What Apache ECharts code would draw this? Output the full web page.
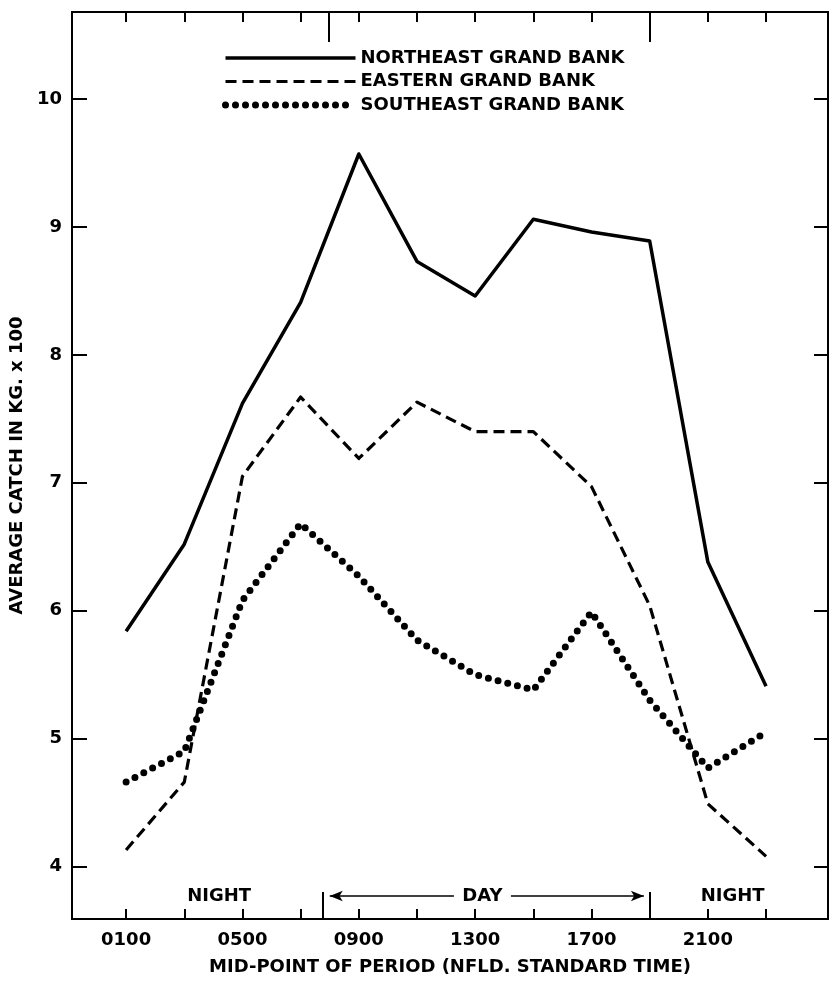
<!DOCTYPE html>
<html><head><meta charset="utf-8">
<script src="https://cdn.jsdelivr.net/npm/echarts@6/dist/echarts.min.js"></script>
<style>html,body{margin:0;padding:0;background:#fff}#c{width:833px;height:981px}</style>
</head><body><div id="c"></div>
<script>
const periods = ['0100','0300','0500','0700','0900','1100','1300','1500','1700','1900','2100','2300'];
const northeast = [5.84, 6.52, 7.62, 8.41, 9.57, 8.73, 8.46, 9.06, 8.96, 8.89, 6.38, 5.41];
const eastern   = [4.13, 4.66, 7.05, 7.67, 7.19, 7.63, 7.40, 7.40, 6.97, 6.04, 4.49, 4.08];
const southeast = [4.66, 4.90, 6.08, 6.68, 6.27, 5.77, 5.50, 5.38, 5.99, 5.30, 4.77, 5.05];
const xTickLabels = ['0100','0500','0900','1300','1700','2100'];
const yTickValues = [4, 5, 6, 7, 8, 9, 10];
const seriesNames = ['NORTHEAST GRAND BANK', 'EASTERN GRAND BANK', 'SOUTHEAST GRAND BANK'];
const periodTexts = ['NIGHT', 'DAY', 'NIGHT'];
const xTitle = 'MID-POINT OF PERIOD (NFLD. STANDARD TIME)';
const yTitle = 'AVERAGE CATCH IN KG. x 100';

const toHour = s => parseInt(s, 10) / 100;
const FONT = 'DejaVu Sans';
const txt = (size) => ({ fontFamily: FONT, fontWeight: 'bold', fontSize: size, color: '#000' });
const X_MIN = -0.86, X_MAX = 25.13, Y_MIN = 3.59, Y_MAX = 10.68;
const tickStyle = { color: '#000', width: 2 };
const noLine = { show: false, onZero: false };

const styles = [
  { width: 3.5, type: 'solid' },
  { width: 3.2, type: [11, 6] },
  { width: 7, type: [0, 10], cap: 'round' }
];

function mkSeries(name, vals, lineStyle, extra) {
  return Object.assign({
    name, type: 'line', symbol: 'none', silent: true, animation: false, z: 3,
    data: periods.map((p, i) => [toHour(p), vals[i]]),
    lineStyle: Object.assign({ color: '#000', join: 'round' }, lineStyle)
  }, extra || {});
}

const ANN_Y = 3.77;
const option = {
  backgroundColor: '#fff',
  animation: false,
  grid: { left: 72, right: 5, top: 12, bottom: 61, show: true, borderColor: '#000', borderWidth: 2, backgroundColor: 'transparent' },
  legend: {
    data: seriesNames.map((n, i) => ({ name: n, lineStyle: Object.assign({ color: '#000' }, styles[i]) })),
    orient: 'vertical', left: 222, top: 49, padding: 0,
    itemWidth: 130, itemHeight: 14, itemGap: 5.5, selectedMode: false,
    textStyle: txt(18), itemStyle: { opacity: 0 }
  },
  xAxis: [
    { type: 'value', min: X_MIN, max: X_MAX, position: 'bottom',
      axisLine: noLine, splitLine: { show: false },
      axisTick: { show: true, inside: true, length: 10, customValues: periods.map(toHour), lineStyle: tickStyle },
      axisLabel: { customValues: xTickLabels.map(toHour), margin: 12, ...txt(18),
        formatter: v => xTickLabels.find(l => Math.abs(toHour(l) - v) < 1e-6) || '' },
      name: xTitle, nameLocation: 'middle', nameGap: 39, nameTextStyle: txt(18) },
    { type: 'value', min: X_MIN, max: X_MAX, position: 'bottom',
      axisLine: noLine, splitLine: { show: false }, axisLabel: { show: false },
      axisTick: { show: true, inside: true, length: 27, customValues: [7.75, 19], lineStyle: tickStyle } },
    { type: 'value', min: X_MIN, max: X_MAX, position: 'top',
      axisLine: noLine, splitLine: { show: false }, axisLabel: { show: false },
      axisTick: { show: true, inside: true, length: 10, customValues: periods.map(toHour), lineStyle: tickStyle } },
    { type: 'value', min: X_MIN, max: X_MAX, position: 'top',
      axisLine: noLine, splitLine: { show: false }, axisLabel: { show: false },
      axisTick: { show: true, inside: true, length: 30, customValues: [7.95, 19], lineStyle: tickStyle } }
  ],
  yAxis: [
    { type: 'value', min: Y_MIN, max: Y_MAX, position: 'left',
      axisLine: noLine, splitLine: { show: false },
      axisTick: { show: true, inside: true, length: 15, customValues: yTickValues, lineStyle: tickStyle },
      axisLabel: { customValues: yTickValues, margin: 10, ...txt(18) },
      name: yTitle, nameLocation: 'middle', nameGap: 39, nameTextStyle: txt(18) },
    { type: 'value', min: Y_MIN, max: Y_MAX, position: 'right',
      axisLine: noLine, splitLine: { show: false }, axisLabel: { show: false },
      axisTick: { show: true, inside: true, length: 14, customValues: yTickValues, lineStyle: tickStyle } }
  ],
  series: [
    mkSeries(seriesNames[0], northeast, styles[0], {
      markLine: {
        silent: true, animation: false, symbol: ['none', 'arrow'], symbolSize: [8, 13],
        label: { show: false },
        lineStyle: { type: 'solid', width: 1.5, color: '#000' },
        data: [
          [{ coord: [12.27, ANN_Y] }, { coord: [8.0, ANN_Y] }],
          [{ coord: [14.23, ANN_Y] }, { coord: [18.8, ANN_Y] }]
        ]
      }
    }),
    mkSeries(seriesNames[1], eastern, styles[1]),
    mkSeries(seriesNames[2], southeast, styles[2])
  ]
};

const chart = echarts.init(document.getElementById('c'), null, { renderer: 'canvas' });
chart.setOption(option);

const annHours = [4.2, 13.25, 21.85];
const graphics = periodTexts.map((t, i) => {
  const pt = chart.convertToPixel({ xAxisIndex: 0, yAxisIndex: 0 }, [annHours[i], ANN_Y]);
  return { type: 'text', x: pt[0], y: pt[1], silent: true,
    style: { text: t, font: 'bold 18px "DejaVu Sans"', fill: '#000', align: 'center', verticalAlign: 'middle' } };
});
chart.setOption({ graphic: graphics });
</script>
</body></html>
